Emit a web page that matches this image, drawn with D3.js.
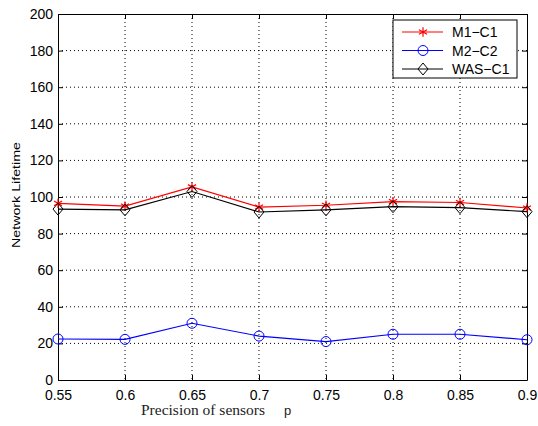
<!DOCTYPE html>
<html>
<head>
<meta charset="utf-8">
<script src="https://cdn.jsdelivr.net/npm/d3@7"></script>
<style>
  body { margin: 0; background: #fff; }
  svg { display: block; }
</style>
</head>
<body>
<div id="chart"></div>
<script>
// data
var precision = [0.55, 0.6, 0.65, 0.7, 0.75, 0.8, 0.85, 0.9];
var m1c1 = [96.5, 95, 105.5, 94.5, 95.5, 97.5, 97, 94];
var m2c2 = [22.4, 22.2, 31, 24, 21, 25, 25, 22];
var wasc1 = [93.4, 93, 103, 91.8, 93, 94.7, 94.2, 92];
var xTicks = [0.55, 0.6, 0.65, 0.7, 0.75, 0.8, 0.85, 0.9];
var yTicks = [0, 20, 40, 60, 80, 100, 120, 140, 160, 180, 200];

var width = 538, height = 426;
var margin = { top: 14, right: 11, bottom: 46, left: 58 };
var w = width - margin.left - margin.right;
var h = height - margin.top - margin.bottom;

var svg = d3.select('#chart')
  .append('svg')
  .attr('width', width)
  .attr('height', height);

var g = svg.append('g')
  .attr('transform', 'translate(' + margin.left + ',' + margin.top + ')');

var x = d3.scaleLinear().domain([0.55, 0.9]).range([0, w]);
var y = d3.scaleLinear().domain([0, 200]).range([h, 0]);

// grid
g.selectAll('.vgrid')
  .data(xTicks.slice(1, -1))
  .enter().append('line')
  .attr('x1', function (d) { return x(d); })
  .attr('x2', function (d) { return x(d); })
  .attr('y1', 0).attr('y2', h)
  .attr('stroke', '#000').attr('stroke-width', 1)
  .attr('stroke-dasharray', '1,3');
g.selectAll('.hgrid')
  .data(yTicks.slice(1, -1))
  .enter().append('line')
  .attr('x1', 0).attr('x2', w)
  .attr('y1', function (d) { return y(d); })
  .attr('y2', function (d) { return y(d); })
  .attr('stroke', '#000').attr('stroke-width', 1)
  .attr('stroke-dasharray', '1,3');

// axes
var fmt = function (d) { return d3.format('')(d); };
g.append('g')
  .attr('transform', 'translate(0,' + h + ')')
  .call(d3.axisBottom(x).tickValues(xTicks).tickSizeInner(-5).tickSizeOuter(0).tickPadding(10).tickFormat(fmt));
g.append('g')
  .call(d3.axisLeft(y).tickValues(yTicks).tickSizeInner(-5).tickSizeOuter(0).tickPadding(5));
g.append('g')
  .call(d3.axisTop(x).tickValues(xTicks).tickSizeInner(-5).tickSizeOuter(0).tickFormat(''));
g.append('g')
  .attr('transform', 'translate(' + w + ',0)')
  .call(d3.axisRight(y).tickValues(yTicks).tickSizeInner(-5).tickSizeOuter(0).tickFormat(''));
g.selectAll('.domain').attr('stroke', '#000');
g.selectAll('.tick text')
  .style('font-family', 'Liberation Sans, Arial, sans-serif')
  .style('font-size', '14px')
  .attr('fill', '#000');

// series
var series = [
  { name: 'M1\u2212C1', values: m1c1, color: '#ff0000', marker: 'star' },
  { name: 'M2\u2212C2', values: m2c2, color: '#0000ff', marker: 'circle' },
  { name: 'WAS\u2212C1', values: wasc1, color: '#000000', marker: 'diamond' }
];

var line = d3.line()
  .x(function (d, i) { return x(precision[i]); })
  .y(function (d) { return y(d); });

function drawMarker(sel, type, color) {
  if (type === 'circle') {
    sel.append('circle').attr('r', 5).attr('fill', 'none')
      .attr('stroke', color).attr('stroke-width', 1);
  } else if (type === 'diamond') {
    sel.append('path').attr('d', 'M0,-6L5,0L0,6L-5,0Z').attr('fill', 'none')
      .attr('stroke', color).attr('stroke-width', 1);
  } else {
    sel.append('path').attr('d', d3.symbol().type(d3.symbolAsterisk).size(60)())
      .attr('fill', 'none').attr('stroke', color).attr('stroke-width', 1.2);
  }
}

series.forEach(function (s) {
  g.append('path')
    .datum(s.values)
    .attr('fill', 'none')
    .attr('stroke', s.color)
    .attr('stroke-width', 1.2)
    .attr('d', line);
  s.values.forEach(function (v, i) {
    var m = g.append('g').attr('transform', 'translate(' + x(precision[i]) + ',' + y(v) + ')');
    drawMarker(m, s.marker, s.color);
  });
});

// legend
var lg = svg.append('g').attr('transform', 'translate(393,20)');
lg.append('rect').attr('width', 124).attr('height', 58)
  .attr('fill', '#fff').attr('stroke', '#000').attr('stroke-width', 1);
series.forEach(function (s, i) {
  var yy = 12 + i * 18.5;
  lg.append('line').attr('x1', 9).attr('x2', 50).attr('y1', yy).attr('y2', yy)
    .attr('stroke', s.color).attr('stroke-width', 1.2);
  var m = lg.append('g').attr('transform', 'translate(30,' + yy + ')');
  drawMarker(m, s.marker, s.color);
  lg.append('text').attr('x', 59).attr('y', yy + 5)
    .style('font-family', 'Liberation Sans, Arial, sans-serif')
    .style('font-size', '14px')
    .text(s.name);
});

// labels
svg.append('text')
  .attr('transform', 'translate(19.5,195) rotate(-90)')
  .attr('text-anchor', 'middle')
  .attr('textLength', 106)
  .attr('lengthAdjust', 'spacingAndGlyphs')
  .style('font-family', 'Liberation Sans, Arial, sans-serif')
  .style('font-size', '11px')
  .text('Network Lifetime');

var xl = svg.append('text')
  .attr('x', 141).attr('y', 415)
  .style('font-family', 'Liberation Serif, Times New Roman, serif')
  .style('font-size', '15.5px')
  .attr('fill', '#222');
xl.append('tspan').text('Precision of sensors');
xl.append('tspan')
  .attr('x', 284)
  .style('font-family', 'Liberation Sans, Arial, sans-serif')
  .style('font-size', '13px')
  .text('p');
</script>
</body>
</html>
